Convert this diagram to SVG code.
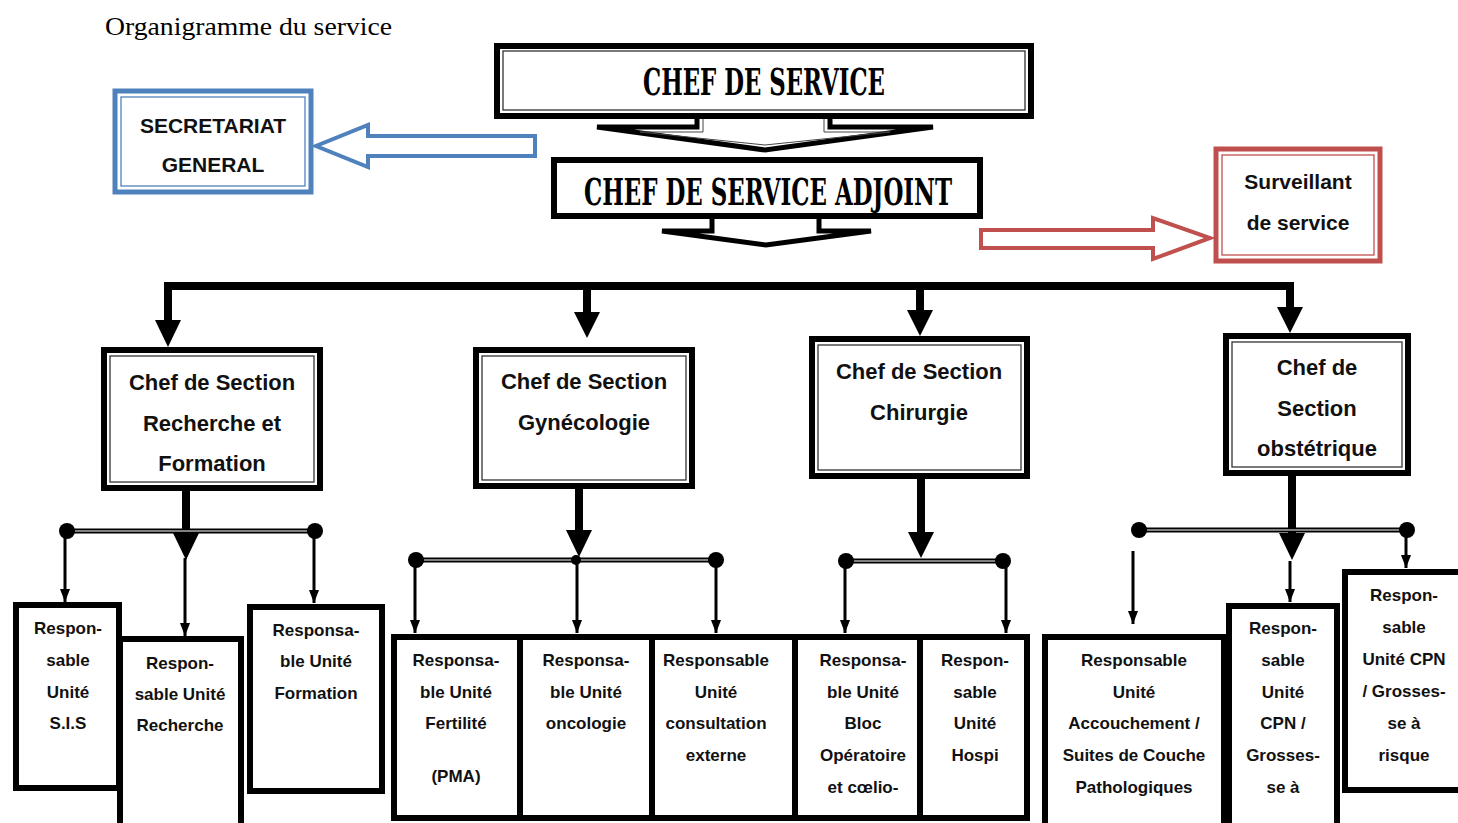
<svg xmlns="http://www.w3.org/2000/svg" width="1458" height="823" viewBox="0 0 1458 823">
<defs>
<style>
.bg{fill:#fff}
.title{font-family:"Liberation Serif",serif;font-size:25px;fill:#000}
.big{font-family:"DejaVu Serif Condensed","DejaVu Serif","Liberation Serif",serif;font-weight:bold;font-size:38px;fill:#000;text-anchor:middle}
.side{font-family:"Liberation Sans",Arial,sans-serif;font-weight:bold;font-size:21px;fill:#111;text-anchor:middle}
.sec{font-family:"Liberation Sans",Arial,sans-serif;font-weight:bold;font-size:22px;fill:#111;text-anchor:middle}
.unit{font-family:"Liberation Sans",Arial,sans-serif;font-weight:bold;font-size:17px;fill:#111;text-anchor:middle}
.outer{fill:#fff;stroke:#000;stroke-width:6}
.inner{fill:none;stroke:#333;stroke-width:1.3}
.ubox{fill:#fff;stroke:#000;stroke-width:6}
.thick{fill:none;stroke:#000;stroke-width:8;stroke-linejoin:miter}
.head{fill:#000}
.dbl{stroke:#000;stroke-width:5;fill:none}
.dblin{stroke:#fff;stroke-width:1.2;fill:none}
.thin{stroke:#000;stroke-width:3;fill:none}
.dot{fill:#000}
</style>
<marker id="ah" viewBox="0 0 13 10" refX="13" refY="5" markerWidth="13" markerHeight="10" markerUnits="userSpaceOnUse" orient="auto">
<path d="M0,0 L13,5 L0,10 Z" fill="#000"/>
</marker>
</defs>
<rect class="bg" x="0" y="0" width="1458" height="823"/>
<text class="title" x="105" y="35" textLength="287" lengthAdjust="spacingAndGlyphs">Organigramme du service</text>

<g id="connectors">
<path d="M697,118 V127 H597 L765,150 L933,127 H830 V118" fill="#fff" stroke="#000" stroke-width="5" stroke-linejoin="miter"/>
<path d="M703,118 V132 H640 L765,145 L890,132 H824 V118" fill="none" stroke="#444" stroke-width="1"/>
<path d="M712,218 V231 H662 L766,245 L871,231 H819 V218" fill="#fff" stroke="#000" stroke-width="5"/>
<path d="M535,136 H368 V125 L316,146 L368,167 V156 H535 Z" fill="#fff" stroke="#4F81BD" stroke-width="4"/>
<path d="M981,230 H1153 V218 L1210,238 L1153,259 V248 H981 Z" fill="#fff" stroke="#C0504D" stroke-width="4"/>
<path class="thick" d="M168,322 V286 H1290 V309"/>
<path class="thick" d="M587,286 V314"/>
<path class="thick" d="M920,286 V312"/>
<path class="head" d="M155,320 H181 L168,347 Z"/>
<path class="head" d="M574,312 H600 L587,338 Z"/>
<path class="head" d="M907,310 H933 L920,336 Z"/>
<path class="head" d="M1277,307 H1303 L1290,333 Z"/>
<path class="thick" d="M186,491 V536"/>
<path class="dbl" d="M67,531 H315"/><path class="dblin" d="M75,531 H307"/>
<circle class="dot" cx="67" cy="531" r="8"/><circle class="dot" cx="315" cy="531" r="8"/>
<path class="head" d="M173,533 H199 L186,560 Z"/>
<path class="thin" d="M65,531 V602" marker-end="url(#ah)"/>
<path class="thin" d="M185,558 V636" marker-end="url(#ah)"/>
<path class="thin" d="M314,531 V603" marker-end="url(#ah)"/>
<path class="thick" d="M579,489 V532"/>
<path class="dbl" d="M416,560 H716"/><path class="dblin" d="M424,560 H708"/>
<circle class="dot" cx="416" cy="560" r="8"/><circle class="dot" cx="576" cy="560" r="5"/><circle class="dot" cx="716" cy="560" r="8"/>
<path class="head" d="M566,530 H592 L579,557 Z"/>
<path class="thin" d="M415,560 V633" marker-end="url(#ah)"/>
<path class="thin" d="M577,560 V633" marker-end="url(#ah)"/>
<path class="thin" d="M716,560 V633" marker-end="url(#ah)"/>
<path class="thick" d="M921,479 V534"/>
<path class="dbl" d="M846,561 H1003"/><path class="dblin" d="M854,561 H995"/>
<circle class="dot" cx="846" cy="561" r="8"/><circle class="dot" cx="1003" cy="561" r="8"/>
<path class="head" d="M908,532 H934 L921,558 Z"/>
<path class="thin" d="M845,561 V633" marker-end="url(#ah)"/>
<path class="thin" d="M1006,561 V633" marker-end="url(#ah)"/>
<path class="thick" d="M1292,476 V536"/>
<path class="dbl" d="M1139,530 H1407"/><path class="dblin" d="M1147,530 H1399"/>
<circle class="dot" cx="1139" cy="530" r="8"/><circle class="dot" cx="1407" cy="530" r="8"/>
<path class="head" d="M1279,533 H1305 L1292,560 Z"/>
<path class="thin" d="M1133,551 V624" marker-end="url(#ah)"/>
<path class="thin" d="M1290,561 V602" marker-end="url(#ah)"/>
<path class="thin" d="M1406,530 V568" marker-end="url(#ah)"/>
</g>

<g id="chef-service">
<rect class="outer" x="497" y="46" width="534" height="70"/>
<rect class="inner" x="503" y="51" width="522" height="59"/>
<text class="big" x="764" y="95" textLength="242" lengthAdjust="spacingAndGlyphs">CHEF DE SERVICE</text>
</g>
<g id="chef-adjoint">
<rect class="outer" x="554" y="160" width="426" height="56" stroke-width="5"/>
<text class="big" x="768" y="205" textLength="368" lengthAdjust="spacingAndGlyphs">CHEF DE SERVICE ADJOINT</text>
</g>
<g id="secretariat">
<rect x="115" y="91" width="196" height="101" fill="#fff" stroke="#4F81BD" stroke-width="5"/>
<rect x="121" y="97" width="184" height="89" fill="none" stroke="#4F81BD" stroke-width="1.3"/>
<text class="side" x="213" y="133">SECRETARIAT</text>
<text class="side" x="213" y="172">GENERAL</text>
</g>
<g id="surveillant">
<rect x="1216" y="149" width="164" height="112" fill="#fff" stroke="#C0504D" stroke-width="5"/>
<rect x="1222" y="155" width="152" height="100" fill="none" stroke="#C0504D" stroke-width="1.3"/>
<text class="side" x="1298" y="189" font-size="22">Surveillant</text>
<text class="side" x="1298" y="230" font-size="22">de service</text>
</g>

<g id="sec-recherche">
<rect class="outer" x="104" y="350" width="216" height="138"/>
<rect class="inner" x="110" y="356" width="204" height="126"/>
<text class="sec" x="212" y="390">Chef de Section</text>
<text class="sec" x="212" y="431">Recherche et</text>
<text class="sec" x="212" y="471">Formation</text>
</g>
<g id="sec-gyneco">
<rect class="outer" x="476" y="350" width="216" height="136"/>
<rect class="inner" x="482" y="356" width="204" height="124"/>
<text class="sec" x="584" y="389">Chef de Section</text>
<text class="sec" x="584" y="430">Gynécologie</text>
</g>
<g id="sec-chirurgie">
<rect class="outer" x="812" y="339" width="215" height="137"/>
<rect class="inner" x="818" y="345" width="203" height="125"/>
<text class="sec" x="919" y="379">Chef de Section</text>
<text class="sec" x="919" y="420">Chirurgie</text>
</g>
<g id="sec-obstetrique">
<rect class="outer" x="1226" y="336" width="182" height="137"/>
<rect class="inner" x="1232" y="342" width="170" height="125"/>
<text class="sec" x="1317" y="375">Chef de</text>
<text class="sec" x="1317" y="416">Section</text>
<text class="sec" x="1317" y="456">obstétrique</text>
</g>

<g id="u-recherche">
<rect class="ubox" x="120" y="639" width="121" height="200"/>
<text class="unit" x="180" y="669">Respon-</text>
<text class="unit" x="180" y="700">sable Unité</text>
<text class="unit" x="180" y="731">Recherche</text>
</g>
<g id="u-sis">
<rect class="ubox" x="16" y="605" width="103" height="183"/>
<text class="unit" x="68" y="634">Respon-</text>
<text class="unit" x="68" y="666">sable</text>
<text class="unit" x="68" y="698">Unité</text>
<text class="unit" x="68" y="729">S.I.S</text>
</g>
<g id="u-formation">
<rect class="ubox" x="250" y="607" width="132" height="184"/>
<text class="unit" x="316" y="636">Responsa-</text>
<text class="unit" x="316" y="667">ble Unité</text>
<text class="unit" x="316" y="699">Formation</text>
</g>
<g id="u-fertilite">
<rect class="ubox" x="394" y="637" width="126" height="181"/>
<text class="unit" x="456" y="666">Responsa-</text>
<text class="unit" x="456" y="698">ble Unité</text>
<text class="unit" x="456" y="729">Fertilité</text>
<text class="unit" x="456" y="782">(PMA)</text>
</g>
<g id="u-oncologie">
<rect class="ubox" x="520" y="637" width="132" height="181"/>
<text class="unit" x="586" y="666">Responsa-</text>
<text class="unit" x="586" y="698">ble Unité</text>
<text class="unit" x="586" y="729">oncologie</text>
</g>
<g id="u-consultation">
<rect class="ubox" x="652" y="637" width="143" height="181"/>
<text class="unit" x="716" y="666">Responsable</text>
<text class="unit" x="716" y="698">Unité</text>
<text class="unit" x="716" y="729">consultation</text>
<text class="unit" x="716" y="761">externe</text>
</g>
<g id="u-bloc">
<rect class="ubox" x="795" y="637" width="125" height="181"/>
<text class="unit" x="863" y="666">Responsa-</text>
<text class="unit" x="863" y="698">ble Unité</text>
<text class="unit" x="863" y="729">Bloc</text>
<text class="unit" x="863" y="761">Opératoire</text>
<text class="unit" x="863" y="793">et cœlio-</text>
</g>
<g id="u-hospi">
<rect class="ubox" x="920" y="637" width="107" height="181"/>
<text class="unit" x="975" y="666">Respon-</text>
<text class="unit" x="975" y="698">sable</text>
<text class="unit" x="975" y="729">Unité</text>
<text class="unit" x="975" y="761">Hospi</text>
</g>
<g id="u-accouchement">
<rect class="ubox" x="1045" y="637" width="179" height="200"/>
<text class="unit" x="1134" y="666">Responsable</text>
<text class="unit" x="1134" y="698">Unité</text>
<text class="unit" x="1134" y="729">Accouchement /</text>
<text class="unit" x="1134" y="761">Suites de Couche</text>
<text class="unit" x="1134" y="793">Pathologiques</text>
</g>
<g id="u-cpn">
<rect class="ubox" x="1229" y="606" width="108" height="230"/>
<text class="unit" x="1283" y="634">Respon-</text>
<text class="unit" x="1283" y="666">sable</text>
<text class="unit" x="1283" y="698">Unité</text>
<text class="unit" x="1283" y="729">CPN /</text>
<text class="unit" x="1283" y="761">Grosses-</text>
<text class="unit" x="1283" y="793">se à</text>
</g>
<g id="u-cpn-risque">
<rect class="ubox" x="1345" y="572" width="125" height="218"/>
<text class="unit" x="1404" y="601">Respon-</text>
<text class="unit" x="1404" y="633">sable</text>
<text class="unit" x="1404" y="665">Unité CPN</text>
<text class="unit" x="1404" y="697">/ Grosses-</text>
<text class="unit" x="1404" y="729">se à</text>
<text class="unit" x="1404" y="761">risque</text>
</g>
</svg>
